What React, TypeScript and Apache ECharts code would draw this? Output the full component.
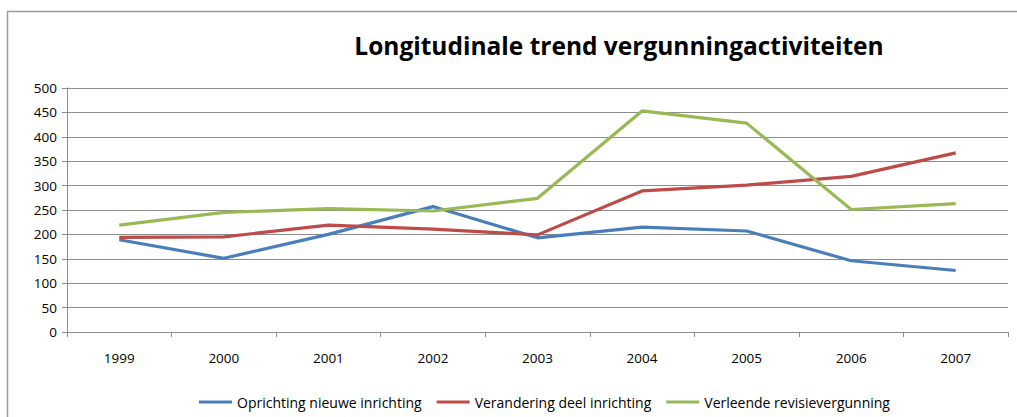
import React, { useEffect, useRef } from "react";
import * as echarts from "echarts";

const years = ["1999", "2000", "2001", "2002", "2003", "2004", "2005", "2006", "2007"];
const oprichting = [189, 151, 200, 257, 193, 215, 207, 146, 126];
const verandering = [194, 195, 219, 211, 199, 289, 301, 319, 367];
const revisie = [219, 245, 253, 248, 274, 453, 428, 251, 263];

const FONT = "'Open Sans', 'Liberation Sans', sans-serif";

export default function App() {
  const ref = useRef<HTMLDivElement>(null);
  useEffect(() => {
    document.body.style.margin = "0";
    const chart = echarts.init(ref.current!, null, { renderer: "svg" });
    const mk = (name: string, data: number[], color: string) => ({
      name,
      type: "line",
      data,
      symbol: "none",
      lineStyle: { color, width: 3.2 },
      itemStyle: { color },
    });
    chart.setOption({
      animation: false,
      backgroundColor: "#fff",
      textStyle: { fontFamily: FONT },
      title: {
        text: "Longitudinale trend vergunningactiviteiten",
        left: 614,
        textAlign: "center",
        top: 28,
        textStyle: { fontSize: 24.5, fontWeight: "bold", color: "#000", fontFamily: FONT },
      },
      graphic: [
        {
          type: "rect",
          shape: { x: 7.5, y: 11.5, width: 1030, height: 430 },
          style: { fill: "none", stroke: "#9a9a9a", lineWidth: 1.5 },
          silent: true,
        },
      ],
      legend: {
        top: 390,
        left: 194,
        itemGap: 15,
        itemWidth: 33,
        itemHeight: 3,
        icon: "rect",
        textStyle: { fontSize: 14, color: "#000", fontFamily: FONT },
        data: ["Oprichting nieuwe inrichting", "Verandering deel inrichting", "Verleende revisievergunning"],
        orient: "horizontal",
      },
      grid: { left: 67, right: 9, top: 88, bottom: 85 },
      xAxis: {
        type: "category",
        data: years,
        boundaryGap: true,
        axisLine: { lineStyle: { color: "#8c8c8c" } },
        axisTick: { show: true, length: 5, lineStyle: { color: "#8c8c8c" } },
        axisLabel: { color: "#000", fontSize: 13.5, margin: 19, fontFamily: FONT },
      },
      yAxis: {
        type: "value",
        min: 0,
        max: 500,
        interval: 50,
        axisLine: { show: true, lineStyle: { color: "#8c8c8c" } },
        axisTick: { show: true, length: 5, lineStyle: { color: "#8c8c8c" } },
        axisLabel: { color: "#000", fontSize: 13.5, margin: 10, fontFamily: FONT },
        splitLine: { lineStyle: { color: "#8c8c8c", width: 1 } },
      },
      series: [
        mk("Oprichting nieuwe inrichting", oprichting, "#4A7EBB"),
        mk("Verandering deel inrichting", verandering, "#BE4B48"),
        mk("Verleende revisievergunning", revisie, "#98B954"),
      ],
    });
    return () => chart.dispose();
  }, []);
  return <div ref={ref} style={{ width: 1017, height: 417 }} />;
}
